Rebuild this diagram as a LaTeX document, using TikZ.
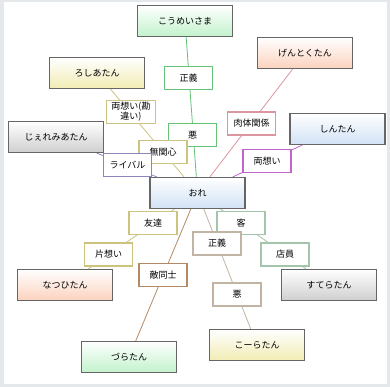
\documentclass[tikz,border=0pt]{standalone}
\usepackage{fontspec}
\setmainfont{Noto Sans CJK JP}
\definecolor{framebg}{HTML}{E4E8EA}
\definecolor{boxborder}{HTML}{666666}
\definecolor{cgreen}{HTML}{C2F2CC}
\definecolor{cyellow}{HTML}{F2ECB4}
\definecolor{cgray}{HTML}{CFCFCF}
\definecolor{csalmon}{HTML}{FBD2BE}
\definecolor{cblue}{HTML}{D2E2F6}
\definecolor{lgreen}{HTML}{64C276}
\definecolor{lolive}{HTML}{CCC47E}
\definecolor{lpurple}{HTML}{8A86BC}
\definecolor{lrose}{HTML}{DC96A0}
\definecolor{lmagenta}{HTML}{C264CC}
\definecolor{lbrown}{HTML}{B48A66}
\definecolor{ltan}{HTML}{C2B4A4}
\definecolor{lsage}{HTML}{A4C4AC}
\begin{document}
\begin{tikzpicture}[x=1pt,y=-1pt,
  person/.style={draw=boxborder, line width=1.3pt, minimum width=95pt, minimum height=31pt,
    inner sep=0pt, top color=white, font=\fontsize{9}{10}\selectfont},
  rel/.style={draw, fill=white, line width=1.1pt, minimum width=48pt, minimum height=23pt,
    inner sep=0pt, align=center, font=\fontsize{9}{9.8}\selectfont},
  link/.style={line width=0.8pt}
]
\useasboundingbox (0,0) rectangle (390,387);
\fill[framebg] (0,0) rectangle (390,387);
\fill[white] (4,2) rectangle (387,384);

% people
\node[person, bottom color=cgreen]  (koumei) at (185,21)    {こうめいさま};
\node[person, bottom color=cyellow] (roshia) at (97,73)     {ろしあたん};
\node[person, bottom color=cgray]   (jeremi) at (56,137)    {じぇれみあたん};
\node[person, bottom color=csalmon] (gentoku) at (305,53)   {げんとくたん};
\node[person, bottom color=cblue]   (shin) at (337.5,129)   {しんたん};
\node[person, bottom color=cblue]   (ore) at (197.5,193)    {おれ};
\node[person, bottom color=csalmon] (natsuhi) at (65,285)   {なつひたん};
\node[person, bottom color=cgreen]  (zura) at (129,357)     {づらたん};
\node[person, bottom color=cgray]   (sutera) at (329,285)   {すてらたん};
\node[person, bottom color=cyellow] (koura) at (257,345)    {こーらたん};

% connectors
\draw[link, lgreen]   (koumei) -- (ore);
\draw[link, lolive]   (roshia) -- (ore);
\draw[link, lpurple]  (jeremi) -- (ore);
\draw[link, lrose]    (gentoku) -- (ore);
\draw[link, lmagenta] (shin) -- (ore);
\draw[link, lolive]   (natsuhi) -- (ore);
\draw[link, lbrown]   (zura) -- (ore);
\draw[link, ltan]     (koura) -- (ore);
\draw[link, lsage]    (sutera) -- (ore);

% relation labels
\node[rel, draw=lgreen]   (r1)  at (188.5,78)   {正義};
\node[rel, draw=lgreen]   (r2)  at (192.5,135)  {悪};
\node[rel, draw=lolive, minimum width=49pt] (r3) at (131,112) {両想い(勘\\違い)};
\node[rel, draw=lolive]   (r4)  at (163,152)    {無関心};
\node[rel, draw=lpurple]  (r5)  at (127.5,165)  {ライバル};
\node[rel, draw=lrose]    (r6)  at (251.5,123.5){肉体関係};
\node[rel, draw=lmagenta] (r7)  at (267,161)    {両想い};
\node[rel, draw=lolive]   (r8)  at (153,223)    {友達};
\node[rel, draw=lolive]   (r9)  at (108.5,254.5){片想い};
\node[rel, draw=lbrown]   (r10) at (163,275)    {敵同士};
\node[rel, draw=lsage]    (r11) at (241,223)    {客};
\node[rel, draw=ltan]     (r12) at (217,243.5)  {正義};
\node[rel, draw=lsage]    (r13) at (285,254.5)  {店員};
\node[rel, draw=ltan]     (r14) at (237,294.5)  {悪};
\end{tikzpicture}
\end{document}
